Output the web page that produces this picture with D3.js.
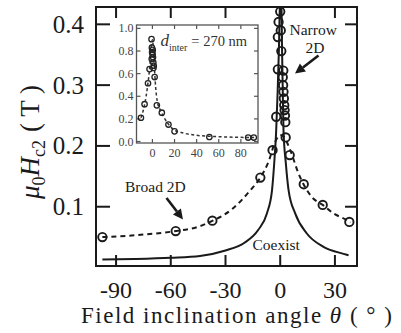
<!DOCTYPE html>
<html>
<head>
<meta charset="utf-8">
<script src="https://cdn.jsdelivr.net/npm/d3@7"></script>
<style>
  body { margin: 0; background: #fff; }
  svg { display: block; }
</style>
</head>
<body>
<script>
// main panel: Hc2 vs field angle
const narrowTheta = [0, -0.9, 0.3, -1.3, 0.6, -1.3, 1.7, 1.4, 1.6, 1.8, 2.0, 2.2, 2.4, 2.6, 2.8, -2.2];
const narrowHc2 = [0.421, 0.404, 0.39, 0.379, 0.356, 0.326, 0.324, 0.313, 0.30, 0.289, 0.278, 0.267, 0.259, 0.25, 0.239, 0.248];

const broadTheta = [-97.5, -57.3, -37.2, -10.9, -4.2, 3.0, 5.2, 12.9, 23.3, 37.9];
const broadHc2 = [0.05, 0.06, 0.077, 0.148, 0.193, 0.214, 0.185, 0.137, 0.103, 0.075];

// dashed fit through broad points
const broadFitTheta = [-97.5, -80, -65, -57, -45, -37, -26, -16.4, -10.9, -6.4, -2.7, 0, 2, 5.5, 10, 17.3, 23.3, 29.2, 36.5, 38.5];
const broadFitHc2 = [0.05, 0.053, 0.057, 0.06, 0.067, 0.077, 0.097, 0.127, 0.148, 0.174, 0.207, 0.218, 0.215, 0.193, 0.155, 0.116, 0.103, 0.089, 0.078, 0.074];

// solid "coexist" curve
const solidTheta = [-97.5, -80, -60, -44, -30, -20, -12, -7.3, -4.5, -3.3, -2.2, -1.4, -0.7, 0, 0.6, 1.0, 1.4, 1.8, 3.1, 4.6, 8.2, 14.6, 23.7, 36.5, 37.5];
const solidHc2 = [0.013, 0.014, 0.016, 0.019, 0.028, 0.04, 0.062, 0.089, 0.127, 0.171, 0.226, 0.29, 0.36, 0.45, 0.45, 0.36, 0.29, 0.226, 0.171, 0.127, 0.089, 0.056, 0.034, 0.021, 0.02];

const xTicks = [-90, -60, -30, 0, 30];
const yTicks = [0.1, 0.2, 0.3, 0.4];

// inset: normalised, d_inter = 270 nm
const insetTheta = [-10.4, -7.1, -4, -2.6, -0.8, -0.5, 0.3, -0.3, 0.2, 0.5, -0.6, 0.8, 1.2, 0.9, 2, 4, 8.5, 14.5, 20, 51.5, 86.6, 91.7];
const insetVal = [0.21, 0.33, 0.515, 0.64, 0.905, 0.83, 0.81, 0.79, 0.77, 0.745, 0.73, 0.7, 0.67, 0.65, 0.57, 0.32, 0.255, 0.15, 0.09, 0.04, 0.035, 0.035];
const insetFitTheta = [-10.4, -7, -4.5, -2.5, -1, 0, 1, 2, 3, 4.5, 7, 10, 14, 20, 28, 40, 55, 75, 92];
const insetFitVal = [0.21, 0.33, 0.48, 0.65, 0.85, 0.9, 0.8, 0.62, 0.47, 0.35, 0.28, 0.22, 0.16, 0.1, 0.075, 0.055, 0.045, 0.038, 0.035];
const insetXTicks = [0, 20, 40, 60, 80];
const insetYTicks = [0, 0.2, 0.4, 0.6, 0.8, 1.0];

const W = 401, H = 333;
const serif = "'Liberation Serif', 'Times New Roman', serif";
const ink = "#1a1a1a";

const svg = d3.select("body").append("svg")
    .attr("width", W).attr("height", H)
    .attr("xmlns", "http://www.w3.org/2000/svg");

const x = d3.scaleLinear().domain([-101, 42.1]).range([96, 357]);
const y = d3.scaleLinear().domain([0.0025, 0.4285]).range([266, 7]);

svg.append("clipPath").attr("id", "plotclip")
  .append("rect").attr("x", 96).attr("y", 7).attr("width", 261).attr("height", 259);

const plot = svg.append("g").attr("clip-path", "url(#plotclip)");

const zip = (a, b) => a.map((v, i) => [v, b[i]]);

const line = d3.line().x(d => x(d[0])).y(d => y(d[1])).curve(d3.curveMonotoneX);

plot.append("path")
    .attr("d", line(zip(solidTheta, solidHc2)))
    .attr("fill", "none").attr("stroke", ink).attr("stroke-width", 2);

plot.append("path")
    .attr("d", line(zip(broadFitTheta, broadFitHc2)))
    .attr("fill", "none").attr("stroke", ink).attr("stroke-width", 2)
    .attr("stroke-dasharray", "5,4");

plot.selectAll("circle.broad").data(zip(broadTheta, broadHc2)).join("circle")
    .attr("class", "broad")
    .attr("cx", d => x(d[0])).attr("cy", d => y(d[1])).attr("r", 4.2)
    .attr("fill", "none").attr("stroke", ink).attr("stroke-width", 1.9);

plot.selectAll("circle.narrow").data(zip(narrowTheta, narrowHc2)).join("circle")
    .attr("class", "narrow")
    .attr("cx", d => x(d[0])).attr("cy", d => y(d[1])).attr("r", 4.2)
    .attr("fill", "none").attr("stroke", ink).attr("stroke-width", 1.9);

// frame + inward ticks on all sides
svg.append("rect").attr("x", 96).attr("y", 7).attr("width", 261).attr("height", 259)
    .attr("fill", "none").attr("stroke", ink).attr("stroke-width", 2);

const tk = svg.append("g").attr("stroke", ink).attr("stroke-width", 2);
xTicks.forEach(t => {
  tk.append("line").attr("x1", x(t)).attr("x2", x(t)).attr("y1", 266).attr("y2", 255);
  tk.append("line").attr("x1", x(t)).attr("x2", x(t)).attr("y1", 7).attr("y2", 18);
});
yTicks.forEach(t => {
  tk.append("line").attr("x1", 96).attr("x2", 110).attr("y1", y(t)).attr("y2", y(t));
  tk.append("line").attr("x1", 357).attr("x2", 345).attr("y1", y(t)).attr("y2", y(t));
});

svg.selectAll("text.xt").data(xTicks).join("text")
    .attr("class", "xt")
    .attr("x", d => x(d)).attr("y", 298)
    .attr("text-anchor", "middle")
    .style("font-family", serif).style("font-size", "24px").attr("fill", ink)
    .text(d => d);

svg.selectAll("text.yt").data(yTicks).join("text")
    .attr("class", "yt")
    .attr("x", 84).attr("y", d => y(d) + 8.5)
    .attr("text-anchor", "end")
    .style("font-family", serif).style("font-size", "25px").attr("fill", ink)
    .text(d => d.toFixed(1));

// axis titles
const xt = svg.append("text")
    .attr("x", 81).attr("y", 323)
    .attr("textLength", 311).attr("lengthAdjust", "spacing")
    .style("font-family", serif).style("font-size", "23px").attr("fill", ink);
xt.append("tspan").text("Field inclination angle ");
xt.append("tspan").style("font-style", "italic").text("θ");
xt.append("tspan").text(" ( ° )");

const yt = svg.append("text")
    .attr("transform", "rotate(-90)")
    .attr("x", -199).attr("y", 39)
    .style("font-family", serif).style("font-size", "27px").attr("fill", ink);
yt.append("tspan").style("font-style", "italic").text("μ");
yt.append("tspan").attr("dy", 6).style("font-size", "18px").text("0");
yt.append("tspan").attr("dy", -6).style("font-style", "italic").text("H");
yt.append("tspan").attr("dy", 6).style("font-size", "18px").text("c2");
yt.append("tspan").attr("dy", -6).attr("dx", 8).text("( T )");

// annotations
function arrow(x1, y1, x2, y2) {
  const a = Math.atan2(y2 - y1, x2 - x1);
  const L = 10, w = 5;
  const bx = x2 - L * Math.cos(a), by = y2 - L * Math.sin(a);
  svg.append("line").attr("x1", x1).attr("y1", y1).attr("x2", bx).attr("y2", by)
      .attr("stroke", ink).attr("stroke-width", 2.6);
  svg.append("path")
      .attr("d", `M${x2},${y2}L${bx - w * Math.sin(a)},${by + w * Math.cos(a)}L${bx + w * Math.sin(a)},${by - w * Math.cos(a)}Z`)
      .attr("fill", ink);
}

const ann = (tx, ty, s, anchor) => svg.append("text")
    .attr("x", tx).attr("y", ty).attr("text-anchor", anchor || "start")
    .style("font-family", serif).style("font-size", "15.5px").attr("fill", ink).text(s);

ann(289.5, 34.5, "Narrow");
ann(315, 52.5, "2D", "middle");
arrow(318.5, 55.5, 295, 73.5);
ann(125, 191.5, "Broad 2D");
arrow(166.5, 198, 183, 219.5);
ann(252.5, 250, "Coexist");

// inset
const ix = d3.scaleLinear().domain([-14.4, 95.5]).range([136.5, 258]);
const iy = d3.scaleLinear().domain([-0.013, 1.03]).range([143, 25]);
const grey = "#555";

const inset = svg.append("g");
inset.append("rect").attr("x", 136.5).attr("y", 25).attr("width", 121.5).attr("height", 118)
    .attr("fill", "#fff").attr("stroke", grey).attr("stroke-width", 1.3);

insetYTicks.forEach(t => {
  inset.append("line").attr("x1", 136.5).attr("x2", 140.5).attr("y1", iy(t)).attr("y2", iy(t)).attr("stroke", grey).attr("stroke-width", 1.2);
  inset.append("line").attr("x1", 258).attr("x2", 254).attr("y1", iy(t)).attr("y2", iy(t)).attr("stroke", grey).attr("stroke-width", 1.2);
});
insetXTicks.forEach(t => {
  inset.append("line").attr("x1", ix(t)).attr("x2", ix(t)).attr("y1", 143).attr("y2", 139).attr("stroke", grey).attr("stroke-width", 1.2);
  inset.append("line").attr("x1", ix(t)).attr("x2", ix(t)).attr("y1", 25).attr("y2", 29).attr("stroke", grey).attr("stroke-width", 1.2);
});

inset.selectAll("text.iyt").data(insetYTicks).join("text")
    .attr("class", "iyt")
    .attr("x", 133.5).attr("y", d => iy(d) + 4)
    .attr("text-anchor", "end")
    .style("font-family", serif).style("font-size", "12px").attr("fill", "#444")
    .text(d => d.toFixed(1));

inset.selectAll("text.ixt").data(insetXTicks).join("text")
    .attr("class", "ixt")
    .attr("x", d => ix(d)).attr("y", 157)
    .attr("text-anchor", "middle")
    .style("font-family", serif).style("font-size", "12px").attr("fill", "#444")
    .text(d => d);

const iline = d3.line().x(d => ix(d[0])).y(d => iy(d[1])).curve(d3.curveMonotoneX);
inset.append("path")
    .attr("d", iline(zip(insetFitTheta, insetFitVal)))
    .attr("fill", "none").attr("stroke", "#333").attr("stroke-width", 1.5)
    .attr("stroke-dasharray", "3,2.5");

inset.selectAll("circle").data(zip(insetTheta, insetVal)).join("circle")
    .attr("cx", d => ix(d[0])).attr("cy", d => iy(d[1])).attr("r", 2.7)
    .attr("fill", "none").attr("stroke", "#222").attr("stroke-width", 1.3);

const lab = inset.append("text").attr("x", 160.5).attr("y", 46)
    .style("font-family", serif).attr("fill", "#333");
lab.append("tspan").style("font-style", "italic").style("font-size", "17px").text("d");
lab.append("tspan").attr("dy", 5).style("font-size", "10px").text("inter");
lab.append("tspan").attr("dy", -5).attr("dx", 4).style("font-size", "14.5px").text("= 270 nm");
</script>
</body>
</html>
